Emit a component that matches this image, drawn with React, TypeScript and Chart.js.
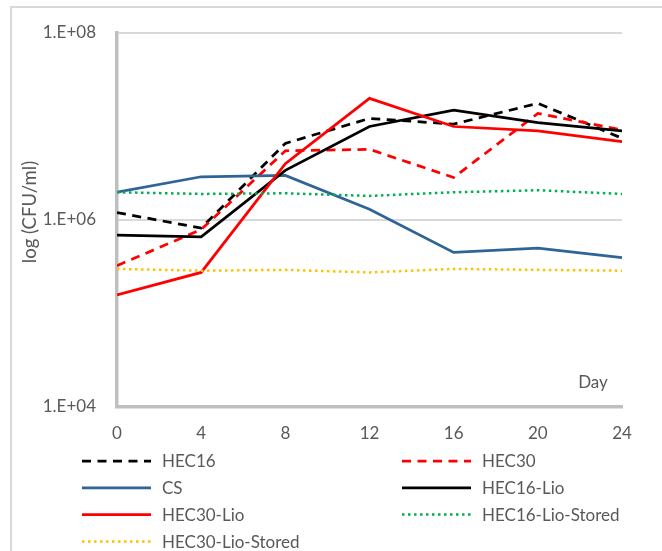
import React, { useEffect, useRef } from "react";
import { Chart, registerables } from "chart.js";

Chart.register(...registerables);

const days = [0, 4, 8, 12, 16, 20, 24];
const seriesNames = ["HEC16", "HEC30", "CS", "HEC16-Lio", "HEC30-Lio", "HEC16-Lio-Stored", "HEC30-Lio-Stored"];
const hec16 = [1.2e6, 8.2e5, 6.6e6, 1.22e7, 1.06e7, 1.77e7, 7.5e6];
const hec30 = [3.25e5, 7.9e5, 5.5e6, 5.7e6, 2.85e6, 1.38e7, 9.2e6];
const cs = [1.98e6, 2.9e6, 3.0e6, 1.3e6, 4.5e5, 5.0e5, 3.95e5];
const hec16Lio = [6.9e5, 6.6e5, 3.4e6, 1.0e7, 1.5e7, 1.1e7, 9.0e6];
const hec30Lio = [1.58e5, 2.75e5, 4.0e6, 2.0e7, 1.0e7, 9.0e6, 6.9e6];
const hec16LioStored = [1.98e6, 1.9e6, 1.93e6, 1.81e6, 1.98e6, 2.08e6, 1.9e6];
const hec30LioStored = [3.0e5, 2.87e5, 2.93e5, 2.75e5, 3.0e5, 2.93e5, 2.87e5];
const yTickValues = [1e4, 1e6, 1e8];
const xTitle = "Day";
const yTitle = "log (CFU/ml)";

const FONT = "Lato";
const TEXT = "#595959";

const seriesValues = [hec16, hec30, cs, hec16Lio, hec30Lio, hec16LioStored, hec30LioStored];
const seriesStyles = [
  { color: "#000000", dash: [9, 6.5], width: 2.75 },
  { color: "#FF0000", dash: [9, 6.5], width: 2.75 },
  { color: "#2E6496", dash: [], width: 2.75 },
  { color: "#000000", dash: [], width: 2.75 },
  { color: "#FF0000", dash: [], width: 2.75 },
  { color: "#00B050", dash: [2.5, 3.5], width: 2.5 },
  { color: "#FFC000", dash: [2.5, 3.5], width: 2.5 },
];

const legendPlugin = {
  id: "customLegend",
  afterDraw(chart: any) {
    const ctx = chart.ctx;
    const ca = chart.chartArea;
    ctx.save();
    ctx.strokeStyle = "#d9d9d9";
    ctx.lineWidth = 2;
    ctx.strokeRect(11, 7, 720, 620);
    ctx.fillStyle = TEXT;
    ctx.font = `17px ${FONT}`;
    ctx.textAlign = "center";
    ctx.textBaseline = "middle";
    ctx.fillText(xTitle, ca.right - 29, ca.bottom - 24);
    // y axis title
    ctx.save();
    ctx.translate(30, (ca.top + ca.bottom) / 2 - 8);
    ctx.rotate(-Math.PI / 2);
    ctx.font = `18.5px ${FONT}`;
    ctx.fillText(yTitle, 0, 0);
    ctx.restore();
    const cols = [82, 402];
    const rowY0 = 461;
    const rowH = 26.8;
    chart.data.datasets.forEach((ds: any, i: number) => {
      const col = i % 2;
      const row = Math.floor(i / 2);
      const x0 = cols[col];
      const y = rowY0 + row * rowH;
      ctx.beginPath();
      ctx.setLineDash(ds.borderDash || []);
      ctx.lineWidth = ds.borderWidth;
      ctx.strokeStyle = ds.borderColor;
      ctx.lineCap = "butt";
      ctx.moveTo(x0, y);
      ctx.lineTo(x0 + 69, y);
      ctx.stroke();
      ctx.setLineDash([]);
      ctx.fillStyle = TEXT;
      ctx.textAlign = "left";
      ctx.textBaseline = "middle";
      ctx.font = `17px ${FONT}`;
      ctx.fillText(ds.label, x0 + 80, y + 1);
    });
    ctx.restore();
  },
};

export default function App() {
  const ref = useRef<HTMLCanvasElement | null>(null);
  useEffect(() => {
    if (!ref.current) return;
    const chart = new Chart(ref.current, {
      type: "line",
      data: {
        datasets: seriesNames.map((name, i) => ({
          label: name,
          data: days.map((d, j) => ({ x: d, y: seriesValues[i][j] })),
          borderColor: seriesStyles[i].color,
          backgroundColor: seriesStyles[i].color,
          borderDash: seriesStyles[i].dash,
          borderWidth: seriesStyles[i].width,
          pointRadius: 0,
          tension: 0,
          fill: false,
          order: seriesNames.length - i,
        })),
      },
      options: {
        responsive: false,
        animation: false,
        layout: { padding: { left: 0, top: 33, right: 40, bottom: 84 } },
        plugins: { legend: { display: false }, tooltip: { enabled: false } },
        scales: {
          x: {
            type: "linear",
            min: 0,
            max: 24,
            afterFit: (s: any) => { s.height = 60; },
            ticks: { stepSize: 4, color: TEXT, font: { family: FONT, size: 17 }, padding: 8, maxRotation: 0 },
            grid: { display: false },
            border: { display: true, color: "#bfbfbf", width: 3.5 },
          },
          y: {
            type: "logarithmic",
            min: 1e4,
            max: 1e8,
            afterFit: (s: any) => { s.width = 117; },
            afterBuildTicks: (s: any) => { s.ticks = yTickValues.map((v) => ({ value: v, major: true })); },
            ticks: {
              color: TEXT,
              font: { family: FONT, size: 17 },
              padding: 21,
              callback: (v: any) => `1.E+${String(Math.round(Math.log10(Number(v)))).padStart(2, "0")}`,
            },
            grid: {
              drawTicks: false,
              lineWidth: 2,
              color: (c: any) => (c.tick && c.tick.value === 1e4 ? "rgba(0,0,0,0)" : "#d9d9d9"),
            },
            border: { display: true, color: "#bfbfbf", width: 3.5 },
            title: { display: false },
          },
        },
      },
      plugins: [legendPlugin],
    });
    return () => chart.destroy();
  }, []);
  return (
    <div style={{ position: "fixed", left: 0, top: 0, width: 662, height: 551, background: "#fff" }}>
      <canvas ref={ref} width={662} height={551} style={{ width: 662, height: 551, display: "block" }} />
    </div>
  );
}
